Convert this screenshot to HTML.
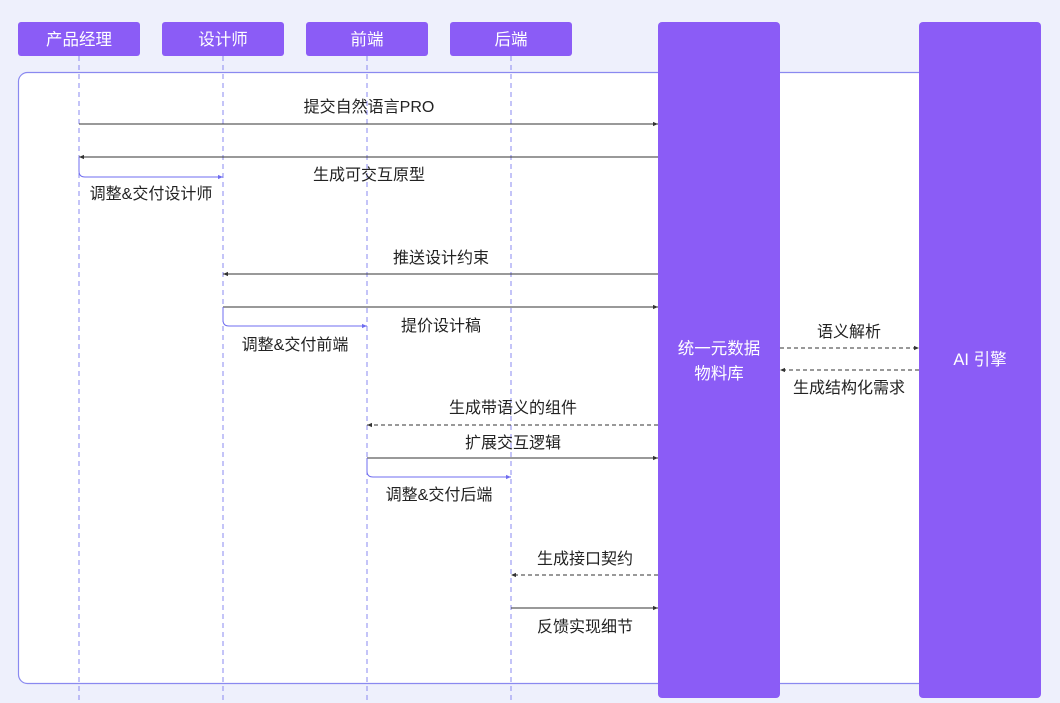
<!DOCTYPE html>
<html><head><meta charset="utf-8"><style>
html,body{margin:0;padding:0;background:#eef0fc;}
svg{display:block;font-family:"Liberation Sans","Noto Sans CJK SC",sans-serif;}
</style></head><body>
<svg width="1060" height="703" viewBox="0 0 1060 703" xmlns="http://www.w3.org/2000/svg">
<defs>
<marker id="a" viewBox="0 0 6 6" refX="6" refY="3" markerWidth="5" markerHeight="5" orient="auto-start-reverse"><path d="M0,0.5 L6,3 L0,5.5z" fill="#333"/></marker>
<marker id="b" viewBox="0 0 6 6" refX="6" refY="3" markerWidth="5" markerHeight="5" orient="auto"><path d="M0,0.5 L6,3 L0,5.5z" fill="#6f6cf0"/></marker>
</defs>
<rect width="1060" height="703" fill="#eef0fc"/>
<rect x="18.5" y="72.5" width="940" height="611" rx="9" fill="#fff" stroke="#8a89f0" stroke-width="1.2"/>
<g fill="#8b5cf6">
<rect x="18" y="22" width="122" height="34" rx="3"/>
<rect x="162" y="22" width="122" height="34" rx="3"/>
<rect x="306" y="22" width="122" height="34" rx="3"/>
<rect x="450" y="22" width="122" height="34" rx="3"/>
<rect x="658" y="22" width="122" height="676" rx="4"/>
<rect x="919" y="22" width="122" height="676" rx="4"/>
</g>
<g fill="#fff" font-size="16.5" text-anchor="middle">
<text x="79" y="45">产品经理</text>
<text x="223" y="45">设计师</text>
<text x="367" y="45">前端</text>
<text x="511" y="45">后端</text>
<text x="719" y="354">统一元数据</text>
<text x="719" y="379">物料库</text>
<text x="980" y="365">AI 引擎</text>
</g>
<g stroke="#8a89f0" stroke-width="1" stroke-dasharray="5,4">
<line x1="79" y1="56" x2="79" y2="703"/>
<line x1="223" y1="56" x2="223" y2="703"/>
<line x1="367" y1="56" x2="367" y2="703"/>
<line x1="511" y1="56" x2="511" y2="703"/>
</g>
<g stroke="#333" stroke-width="1" fill="none">
<line x1="79" y1="124" x2="658" y2="124" marker-end="url(#a)"/>
<line x1="658" y1="157" x2="79" y2="157" marker-end="url(#a)"/>
<line x1="658" y1="274" x2="223" y2="274" marker-end="url(#a)"/>
<line x1="223" y1="307" x2="658" y2="307" marker-end="url(#a)"/>
<line x1="780" y1="348" x2="919" y2="348" stroke-dasharray="4,3" marker-end="url(#a)"/>
<line x1="919" y1="370" x2="780" y2="370" stroke-dasharray="4,3" marker-end="url(#a)"/>
<line x1="658" y1="425" x2="367" y2="425" stroke-dasharray="4,3" marker-end="url(#a)"/>
<line x1="367" y1="458" x2="658" y2="458" marker-end="url(#a)"/>
<line x1="658" y1="575" x2="511" y2="575" stroke-dasharray="4,3" marker-end="url(#a)"/>
<line x1="511" y1="608" x2="658" y2="608" marker-end="url(#a)"/>
</g>
<g stroke="#6f6cf0" stroke-width="1" fill="none">
<path d="M79,157 V171 Q79,177 85,177 H223" marker-end="url(#b)"/>
<path d="M223,307 V320 Q223,326 229,326 H367" marker-end="url(#b)"/>
<path d="M367,458 V471 Q367,477 373,477 H511" marker-end="url(#b)"/>
</g>
<g fill="#222" font-size="16" text-anchor="middle">
<text x="369" y="112">提交自然语言PRO</text>
<text x="369" y="180">生成可交互原型</text>
<text x="151" y="199">调整&amp;交付设计师</text>
<text x="441" y="263">推送设计约束</text>
<text x="441" y="331">提价设计稿</text>
<text x="295" y="350">调整&amp;交付前端</text>
<text x="849" y="337">语义解析</text>
<text x="849" y="393">生成结构化需求</text>
<text x="513" y="413">生成带语义的组件</text>
<text x="513" y="448">扩展交互逻辑</text>
<text x="439" y="500">调整&amp;交付后端</text>
<text x="585" y="564">生成接口契约</text>
<text x="585" y="632">反馈实现细节</text>
</g>
</svg>
</body></html>
